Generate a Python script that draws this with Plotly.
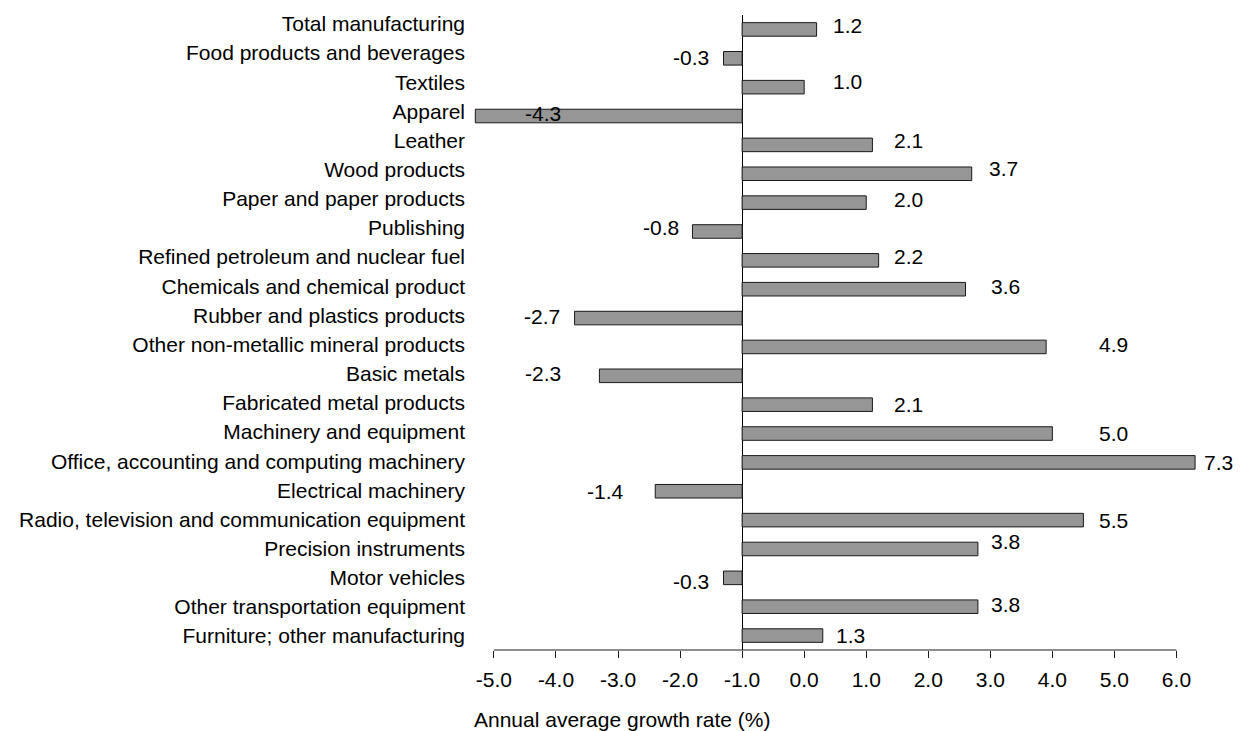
import plotly.graph_objects as go

# Manufacturing industries, top to bottom
industries = [
    "Total manufacturing",
    "Food products and beverages",
    "Textiles",
    "Apparel",
    "Leather",
    "Wood products",
    "Paper and paper products",
    "Publishing",
    "Refined petroleum and nuclear fuel",
    "Chemicals and chemical product",
    "Rubber and plastics products",
    "Other non-metallic mineral products",
    "Basic metals",
    "Fabricated metal products",
    "Machinery and equipment",
    "Office, accounting and computing machinery",
    "Electrical machinery",
    "Radio, television and communication equipment",
    "Precision instruments",
    "Motor vehicles",
    "Other transportation equipment",
    "Furniture; other manufacturing",
]

# Annual average growth rate (%)
growth = [1.2, -0.3, 1.0, -4.3, 2.1, 3.7, 2.0, -0.8, 2.2, 3.6, -2.7,
          4.9, -2.3, 2.1, 5.0, 7.3, -1.4, 5.5, 3.8, -0.3, 3.8, 1.3]

# Axis ticks and their printed labels
tick_vals = [-4, -3, -2, -1, 0, 1, 2, 3, 4, 5, 6, 7]
tick_text = ["-5.0", "-4.0", "-3.0", "-2.0", "-1.0", "0.0",
             "1.0", "2.0", "3.0", "4.0", "5.0", "6.0"]

# Placement of the value labels (x in axis units, vertical nudge in px)
label_x = [1.70, -0.83, 1.70, -3.21, 2.68, 4.22, 2.68, -1.31, 2.68, 4.24, -3.22,
           5.99, -3.21, 2.68, 5.98, 7.67, -2.20, 5.98, 4.24, -0.83, 4.24, 1.74]
label_up = [4, 1, 6, 3, 4, 5, 3, 4, 4, 3, 2,
            2, 2, 0, 0, 0, 0, 0, 7, -4, 2, 0]

FONT = "Liberation Sans, Arial, Helvetica, sans-serif"
N = len(industries)
positions = list(range(N))

fig = go.Figure()
fig.add_trace(go.Bar(
    x=growth,
    y=positions,
    orientation="h",
    width=0.47,
    marker=dict(color="#969696", line=dict(color="#1a1a1a", width=1)),
    customdata=industries,
    hovertemplate="%{customdata}: %{x:.1f}<extra></extra>",
))

# Carrier trace for the category label axis
fig.add_trace(go.Scatter(
    x=[0] * N, y=positions, yaxis="y2", mode="markers",
    marker=dict(opacity=0), hoverinfo="skip", showlegend=False,
))

for pos, v, lx, up in zip(positions, growth, label_x, label_up):
    fig.add_annotation(
        x=lx, y=pos, xref="x", yref="y",
        text=f"{v:.1f}", showarrow=False,
        xanchor="center", yanchor="middle", yshift=up,
        font=dict(family=FONT, size=21, color="#000000"),
    )

# Horizontal axis line spanning the ticked interval
fig.add_shape(type="line", xref="x", yref="paper",
              x0=tick_vals[0], x1=tick_vals[-1], y0=0, y1=0,
              line=dict(color="#1a1a1a", width=1))

# Axis title
fig.add_annotation(
    x=-4.35, y=0, xref="x", yref="paper",
    text="Annual average growth rate (%)", showarrow=False,
    xanchor="left", yanchor="middle", yshift=-69,
    font=dict(family=FONT, size=21, color="#000000"),
)

fig.update_layout(
    width=1243, height=731,
    margin=dict(l=466, r=20, t=12, b=81),
    plot_bgcolor="white", paper_bgcolor="white",
    showlegend=False,
    font=dict(family=FONT, size=21, color="#000000"),
    xaxis=dict(
        range=[-4.45, 7.75],
        tickmode="array", tickvals=tick_vals, ticktext=tick_text,
        ticks="outside", ticklen=7, tickcolor="#1a1a1a", tickwidth=1,
        showline=False, showgrid=False,
        zeroline=True, zerolinecolor="#000000", zerolinewidth=1,
        tickfont=dict(family=FONT, size=21, color="#000000"),
        ticklabelstandoff=4,
    ),
    yaxis=dict(
        range=[N - 0.5, -0.5],
        showgrid=False, showline=False, zeroline=False,
        showticklabels=False, ticks="",
    ),
    # Category labels sit on a slightly wider spacing than the bar rows
    yaxis2=dict(
        overlaying="y", side="left", anchor="x",
        range=[21.479, -0.307],
        tickmode="array", tickvals=positions, ticktext=industries,
        showgrid=False, showline=False, zeroline=False, ticks="",
        tickfont=dict(family=FONT, size=21, color="#000000"),
    ),
)

fig.write_html("out.html")
